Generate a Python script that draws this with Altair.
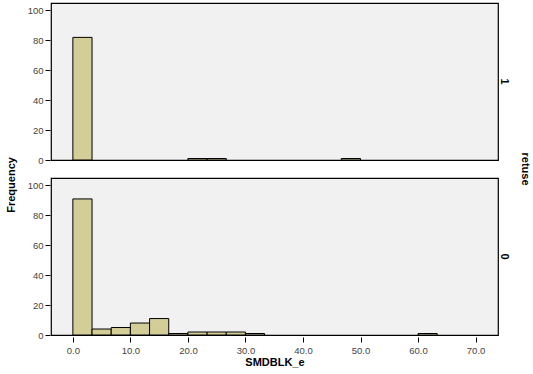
import altair as alt
import pandas as pd

# Histogram of SMDBLK_e, split by refuse group (bin width 10/3)
bin_width = 10 / 3

refuse_1_bins = [0, 6, 7, 14]
refuse_1_counts = [82, 1, 1, 1]

refuse_0_bins = [0, 1, 2, 3, 4, 5, 6, 7, 8, 9, 18]
refuse_0_counts = [91, 4, 5, 8, 11, 1, 2, 2, 2, 1, 1]

rows = []
for group, bins, counts in (("1", refuse_1_bins, refuse_1_counts),
                            ("0", refuse_0_bins, refuse_0_counts)):
    for b, c in zip(bins, counts):
        rows.append({"refuse": group,
                     "lo": b * bin_width,
                     "hi": (b + 1) * bin_width,
                     "count": c})
df = pd.DataFrame(rows)

x_ticks = [0, 10, 20, 30, 40, 50, 60, 70]
y_ticks = [0, 20, 40, 60, 80, 100]

font = "Liberation Sans"

base = alt.Chart(df).mark_bar(
    fill="#d3ce97", stroke="#000000", strokeWidth=1, opacity=1
).encode(
    x=alt.X("lo:Q",
            scale=alt.Scale(domain=[-3.8, 73.9], nice=False, zero=False),
            axis=alt.Axis(values=x_ticks, format=".1f", title="SMDBLK_e",
                          grid=False, domain=False, tickColor="#000000",
                          tickSize=5, labelColor="#444444", labelFontSize=9.5,
                          labelPadding=3, titleFontSize=11, titleFontWeight="bold",
                          titleColor="#000000", titlePadding=2)),
    x2="hi:Q",
    y=alt.Y("count:Q",
            scale=alt.Scale(domain=[0, 105], nice=False),
            axis=alt.Axis(values=y_ticks, title=None, grid=False,
                          domain=False, tickColor="#000000", tickSize=5,
                          labelColor="#444444", labelFontSize=9.5, labelPadding=2)),
    y2=alt.datum(0),
).properties(width=447, height=157)

chart = base.facet(
    row=alt.Row("refuse:N", sort=["1", "0"],
                header=alt.Header(title="retuse", titleOrient="right",
                                  labelOrient="right", labelAngle=90,
                                  titleAngle=90, labelFontSize=11,
                                  labelFontWeight="bold", labelFont=font,
                                  titleFont=font, titleFontSize=11,
                                  titleFontWeight="bold", labelPadding=0,
                                  titlePadding=0)),
    spacing=15,
).properties(
    title=alt.TitleParams("Frequency", orient="left", anchor="middle",
                          font=font, fontSize=11, fontWeight="bold",
                          color="#000000", offset=10),
    padding={"left": 6, "top": 2, "right": 0, "bottom": 0},
).configure(
    font=font,
    background="#ffffff",
).configure_view(
    fill="#f1f1f1", stroke="#000000", strokeWidth=1.2
).configure_axis(
    labelFont=font, titleFont=font
)

chart.save("out.html", embed_options={"renderer": "svg", "actions": False})
